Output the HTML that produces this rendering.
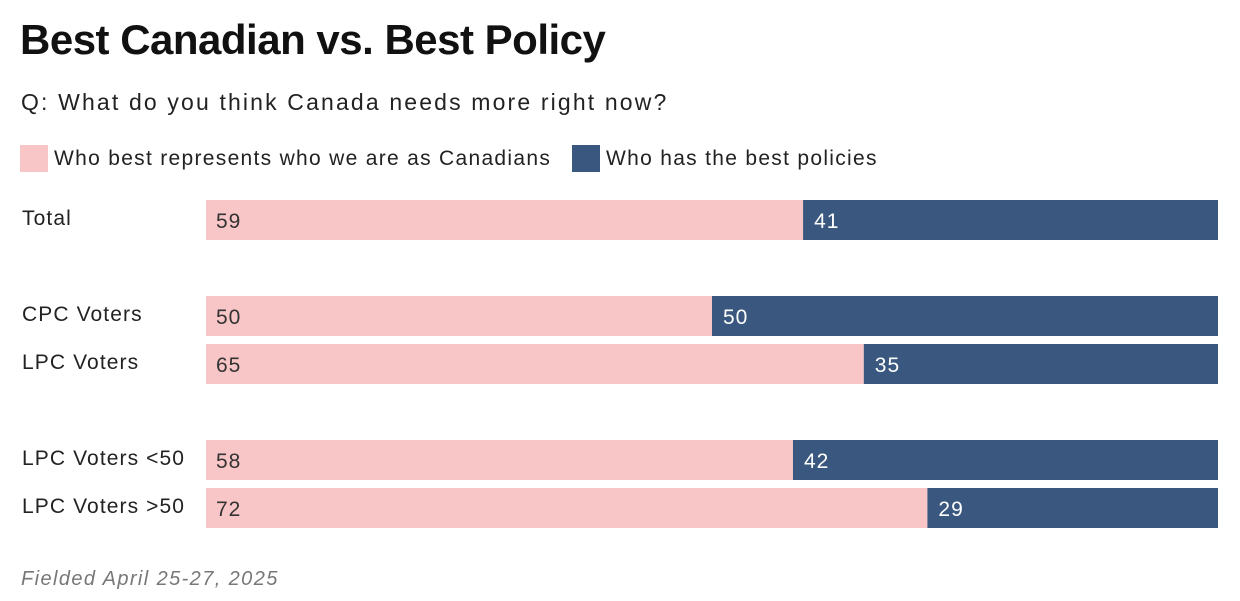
<!DOCTYPE html>
<html><head><meta charset="utf-8"><style>
body{margin:0;width:1240px;height:601px;background:#fff;font-family:"Liberation Sans",sans-serif;position:relative;overflow:hidden;color:#222}
.t{position:absolute;white-space:nowrap}
</style></head><body>
<div class="t" style="left:20px;top:16px;font-size:42px;font-weight:bold;color:#111;letter-spacing:-0.5px">Best Canadian vs. Best Policy</div>
<div class="t" style="left:21px;top:89px;font-size:23px;letter-spacing:2.15px;color:#222">Q: What do you think Canada needs more right now?</div>
<div class="t" style="left:20px;top:145px;height:28px;">
<span style="display:inline-block;width:28px;height:27px;background:#f9c6c8;vertical-align:middle"></span><span style="font-size:21px;letter-spacing:1.3px;margin-left:6px;vertical-align:middle">Who best represents who we are as Canadians</span></div>
<div class="t" style="left:572px;top:145px;height:28px;">
<span style="display:inline-block;width:28px;height:27px;background:#3a587f;vertical-align:middle"></span><span style="font-size:21px;letter-spacing:1.3px;margin-left:6px;vertical-align:middle">Who has the best policies</span></div>
<svg id="chart" width="1240" height="601" style="position:absolute;left:0;top:0"></svg>
<div class="t" style="left:21px;top:568px;font-size:20px;letter-spacing:1.4px;font-style:italic;color:#777">Fielded April 25-27, 2025</div>
<script>
const categories=["Total","CPC Voters","LPC Voters","LPC Voters <50","LPC Voters >50"];
const canadians=[59,50,65,58,72];
const policies=[41,50,35,42,29];
const rowTops=[200,296,344,440,488];
const svg=document.getElementById('chart');
const NS='http://www.w3.org/2000/svg';
const x0=206,x1=1218,bh=40;
function xs(v,tot){return x0+(x1-x0)*v/tot;}
categories.forEach((c,i)=>{
 const y=rowTops[i],tot=canadians[i]+policies[i];
 const lab=document.createElementNS(NS,'text');
 
 
 lab.setAttribute('x',22);lab.setAttribute('y',y+25);lab.setAttribute('font-size','21');lab.setAttribute('letter-spacing','1.1');lab.setAttribute('fill','#222');lab.textContent=c;svg.appendChild(lab);
 const xm=xs(canadians[i],tot);
 const r1=document.createElementNS(NS,'rect');
 
 
 r1.setAttribute('x',x0);r1.setAttribute('y',y);r1.setAttribute('width',xm-x0);r1.setAttribute('height',bh);r1.setAttribute('fill','#f9c6c8');svg.appendChild(r1);
 const r2=document.createElementNS(NS,'rect');
 
 
 r2.setAttribute('x',xm);r2.setAttribute('y',y);r2.setAttribute('width',x1-xm);r2.setAttribute('height',bh);r2.setAttribute('fill','#3a587f');svg.appendChild(r2);
 const t1=document.createElementNS(NS,'text');
 
 
 t1.setAttribute('x',x0+10);t1.setAttribute('y',y+28);t1.setAttribute('font-size','21');t1.setAttribute('letter-spacing','1');t1.setAttribute('fill','#333');t1.textContent=canadians[i];svg.appendChild(t1);
 const t2=document.createElementNS(NS,'text');
 
 
 t2.setAttribute('x',xm+11);t2.setAttribute('y',y+28);t2.setAttribute('font-size','21');t2.setAttribute('letter-spacing','1');t2.setAttribute('fill','#fff');t2.textContent=policies[i];svg.appendChild(t2);
});
</script>
</body></html>
